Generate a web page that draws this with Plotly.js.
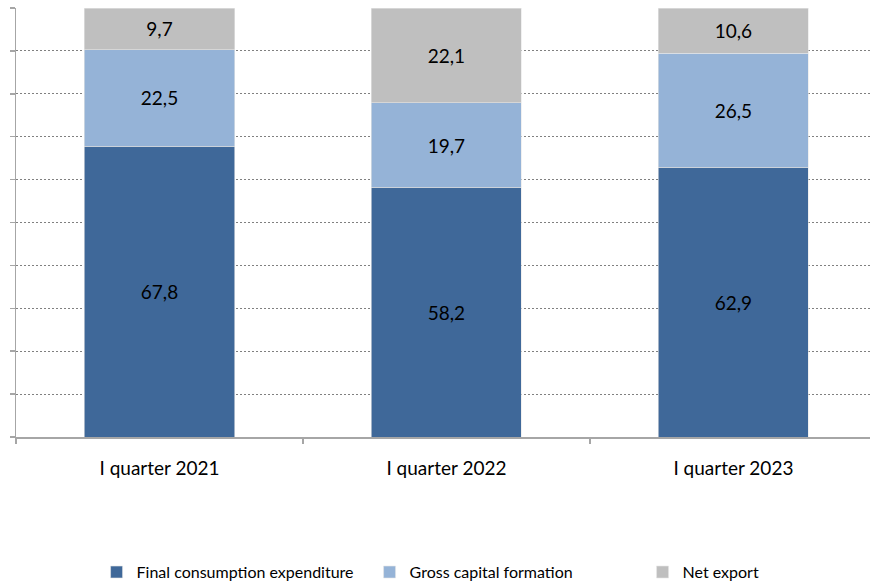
<!DOCTYPE html>
<html><head><meta charset="utf-8">
<script src="https://cdn.plot.ly/plotly-3.0.1.min.js"></script>
<style>html,body{margin:0;padding:0;background:#fff}#chart{width:870px;height:585px}</style>
</head><body><div id="chart"></div>
<script>
var categories = ["I quarter 2021", "I quarter 2022", "I quarter 2023"];
var finalConsumption = [67.8, 58.2, 62.9];
var grossCapital = [22.5, 19.7, 26.5];
var netExport = [9.7, 22.1, 10.6];
var seriesNames = ["Final consumption expenditure", "Gross capital formation", "Net export"];
var colors = ["#3F6899", "#95B3D7", "#BFBFBF"];
var seriesValues = [finalConsumption, grossCapital, netExport];

var font = "Lato, 'Open Sans', sans-serif";
var traces = seriesValues.map(function(vals, i){
  return {
    type: "bar", x: categories, y: vals, name: seriesNames[i],
    marker: {color: colors[i], line: {color: "#e6e6e6", width: 0.6}},
    texttemplate: "%{y:.1f}", textposition: "inside", insidetextanchor: "middle",
    textfont: {color: "#000", size: 19, family: font},
    hoverinfo: "skip"
  };
});
var layout = {
  width: 870, height: 585,
  margin: {l: 16, r: 0, t: 8, b: 148},
  barmode: "stack", bargap: 0.477,
  separators: ", ",
  paper_bgcolor: "#fff", plot_bgcolor: "#fff",
  font: {family: font, size: 16, color: "#000"},
  xaxis: {
    range: [-0.5, 2.476], showline: true, linecolor: "#a6a6a6", linewidth: 1.5,
    ticks: "outside", tickson: "boundaries", ticklen: 5, tickcolor: "#a6a6a6", tickwidth: 1.5,
    ticklabelstandoff: 14, automargin: false,
    tickfont: {size: 19, family: font, color: "#000"}, showgrid: false, zeroline: false,
    fixedrange: true
  },
  yaxis: {
    range: [0, 100], tickvals: [0,10,20,30,40,50,60,70,80,90,100], showticklabels: false,
    ticks: "outside", ticklen: 5, tickcolor: "#a6a6a6", tickwidth: 1.5, automargin: false,
    showline: true, linecolor: "#a6a6a6", linewidth: 1.5,
    showgrid: true, gridcolor: "#808080", griddash: "2px,2px", gridwidth: 1, zeroline: false
  },
  legend: {
    orientation: "h", xref: "container", yref: "container",
    x: 0.111, xanchor: "left", y: 0.022, yanchor: "middle",
    font: {size: 16, family: font, color: "#000"}, itemwidth: 30, traceorder: "normal",
    entrywidth: 228, entrywidthmode: "pixels"
  },
  showlegend: true
};
Plotly.newPlot("chart", traces, layout, {displayModeBar: false, staticPlot: true});
</script></body></html>
